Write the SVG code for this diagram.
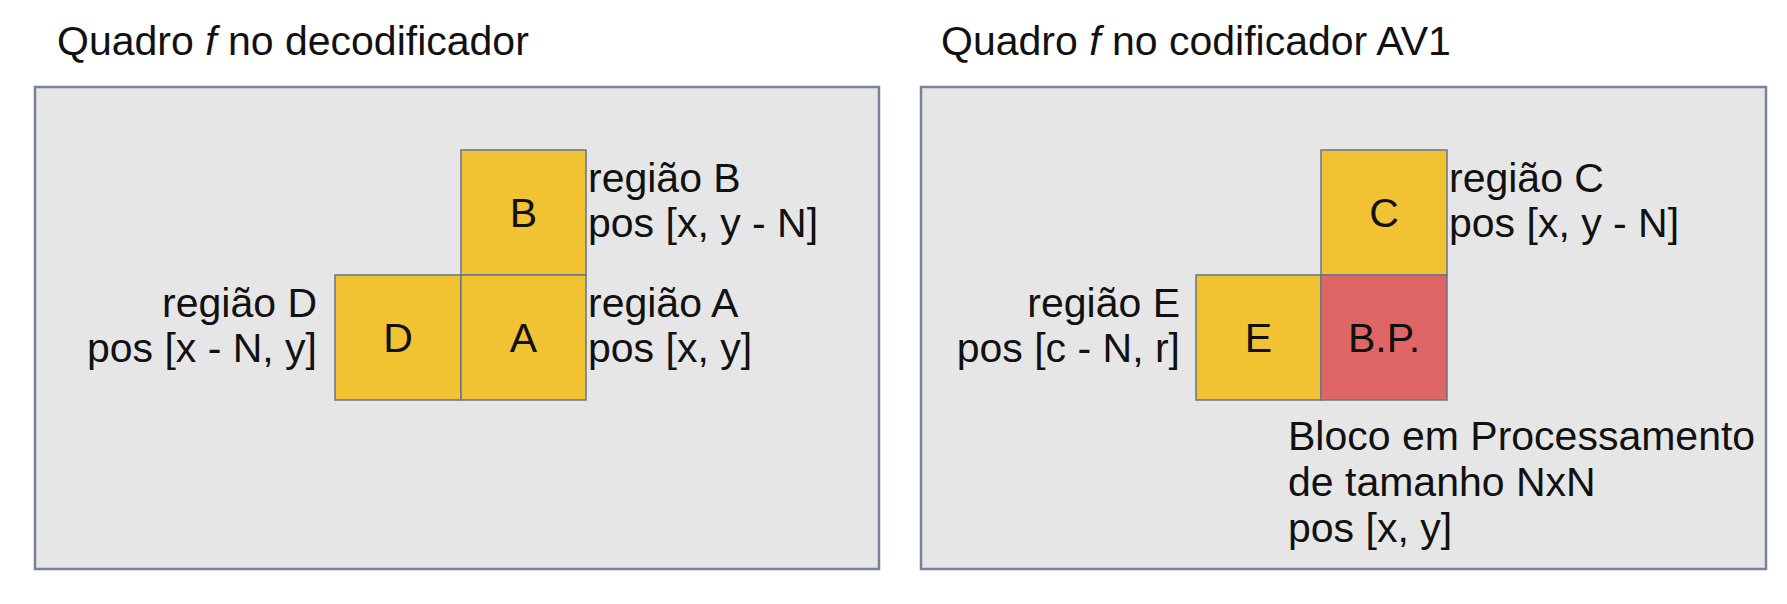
<svg xmlns="http://www.w3.org/2000/svg" width="1787" height="604" viewBox="0 0 1787 604">
<style>
text{font-family:"Liberation Sans",Arial,sans-serif;font-size:41px;fill:#111}
.panel{fill:#e6e6e6;stroke:#76839a;stroke-width:2.5}
.blk{stroke:#66768a;stroke-width:1.5}
.y{fill:#f1c232}
.r{fill:#e06666}
.c{text-anchor:middle}
.e{text-anchor:end}
</style>
<rect width="1787" height="604" fill="#ffffff"/>
<g id="panel-decoder">
<rect class="panel" x="35" y="87" width="844" height="482"/>
<text x="57" y="55">Quadro <tspan font-style="italic">f</tspan> no decodificador</text>
</g>
<g id="panel-encoder">
<rect class="panel" x="921" y="87" width="845" height="482"/>
<text x="941" y="55">Quadro <tspan font-style="italic">f</tspan> no codificador AV1</text>
</g>
<g id="connectors"></g>
<g id="block-B">
<rect class="blk y" x="461" y="150" width="125" height="125"/>
<text class="c" x="523.5" y="227">B</text>
<text x="588" y="192">região B</text>
<text x="588" y="237">pos [x, y - N]</text>
</g>
<g id="block-D">
<rect class="blk y" x="335" y="275" width="126" height="125"/>
<text class="c" x="398" y="352">D</text>
<text class="e" x="317" y="317">região D</text>
<text class="e" x="317" y="362">pos [x - N, y]</text>
</g>
<g id="block-A">
<rect class="blk y" x="461" y="275" width="125" height="125"/>
<text class="c" x="523.5" y="352">A</text>
<text x="588" y="317">região A</text>
<text x="588" y="362">pos [x, y]</text>
</g>
<g id="block-C">
<rect class="blk y" x="1321" y="150" width="126" height="125"/>
<text class="c" x="1384" y="227">C</text>
<text x="1449" y="192">região C</text>
<text x="1449" y="237">pos [x, y - N]</text>
</g>
<g id="block-E">
<rect class="blk y" x="1196" y="275" width="125" height="125"/>
<text class="c" x="1258.5" y="352">E</text>
<text class="e" x="1180" y="317">região E</text>
<text class="e" x="1180" y="362">pos [c - N, r]</text>
</g>
<g id="block-BP">
<rect class="blk r" x="1321" y="275" width="126" height="125"/>
<text class="c" x="1384" y="352">B.P.</text>
<text x="1288" y="450">Bloco em Processamento</text>
<text x="1288" y="496">de tamanho NxN</text>
<text x="1288" y="542">pos [x, y]</text>
</g>
</svg>
